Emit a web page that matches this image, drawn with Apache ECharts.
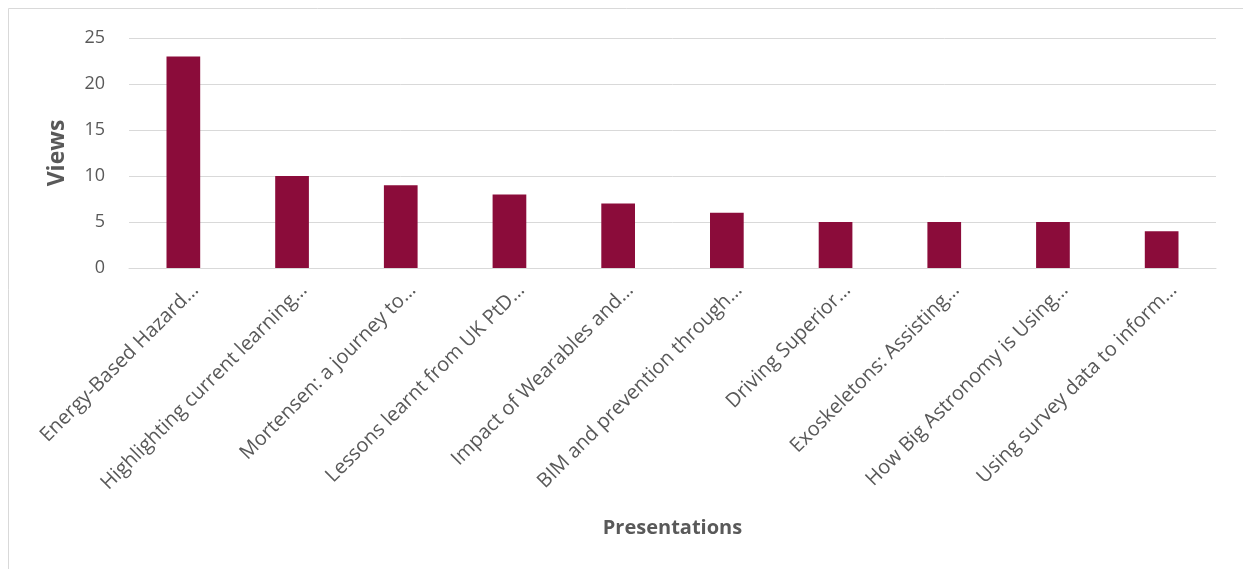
<!DOCTYPE html>
<html>
<head>
<meta charset="utf-8">
<script src="https://cdn.jsdelivr.net/npm/echarts@6/dist/echarts.min.js"></script>
<style>
  html, body { margin: 0; padding: 0; background: #fff; }
  #chart { width: 1243px; height: 569px; }
</style>
</head>
<body>
<div id="chart"></div>
<script>
// Presentation titles (truncated as shown on the axis)
const categories = [
  'Energy-Based Hazard…',
  'Highlighting current learning…',
  'Mortensen: a journey to…',
  'Lessons learnt from UK PtD…',
  'Impact of Wearables and…',
  'BIM and prevention through…',
  'Driving Superior…',
  'Exoskeletons: Assisting…',
  'How Big Astronomy is Using…',
  'Using survey data to inform…'
];
// Number of views per presentation
const views = [23, 10, 9, 8, 7, 6, 5, 5, 5, 4];
const yTicks = [0, 5, 10, 15, 20, 25];

const FONT = '"Open Sans", Lato, sans-serif';
const TEXT = '#595959';
const chart = echarts.init(document.getElementById('chart'), null, { renderer: 'canvas' });

chart.setOption({
  animation: false,
  backgroundColor: '#ffffff',
  graphic: [{
    type: 'rect',
    shape: { x: 8.5, y: 8.5, width: 1260, height: 600 },
    style: { fill: 'none', stroke: '#d9d9d9', lineWidth: 1 },
    silent: true
  }],
  grid: { left: 129, right: 27, top: 38, bottom: 301, containLabel: false },
  xAxis: {
    type: 'category',
    data: categories,
    name: 'Presentations',
    nameLocation: 'middle',
    nameGap: 250,
    nameTextStyle: { fontFamily: FONT, fontSize: 20, fontWeight: 'bold', color: TEXT },
    axisLine: { show: true, lineStyle: { color: '#d9d9d9', width: 1 } },
    axisTick: { show: false },
    axisLabel: {
      interval: 0,
      rotate: 45,
      margin: 7,
      verticalAlign: 'top',
      padding: [7, 0, 0, 0],
      fontFamily: FONT,
      fontSize: 20,
      color: TEXT
    }
  },
  yAxis: {
    type: 'value',
    min: yTicks[0],
    max: yTicks[yTicks.length - 1],
    interval: 5,
    name: 'Views',
    nameLocation: 'middle',
    nameGap: 60,
    nameRotate: 90,
    nameTextStyle: { fontFamily: FONT, fontSize: 23, fontWeight: 'bold', color: TEXT },
    axisLine: { show: false },
    axisTick: { show: false },
    splitLine: { lineStyle: { color: '#d9d9d9', width: 1 } },
    axisLabel: { fontFamily: FONT, fontSize: 18, color: TEXT, margin: 24 }
  },
  series: [{
    type: 'bar',
    data: views,
    barWidth: '31%',
    itemStyle: { color: '#8b0c3a' }
  }]
});
</script>
</body>
</html>
